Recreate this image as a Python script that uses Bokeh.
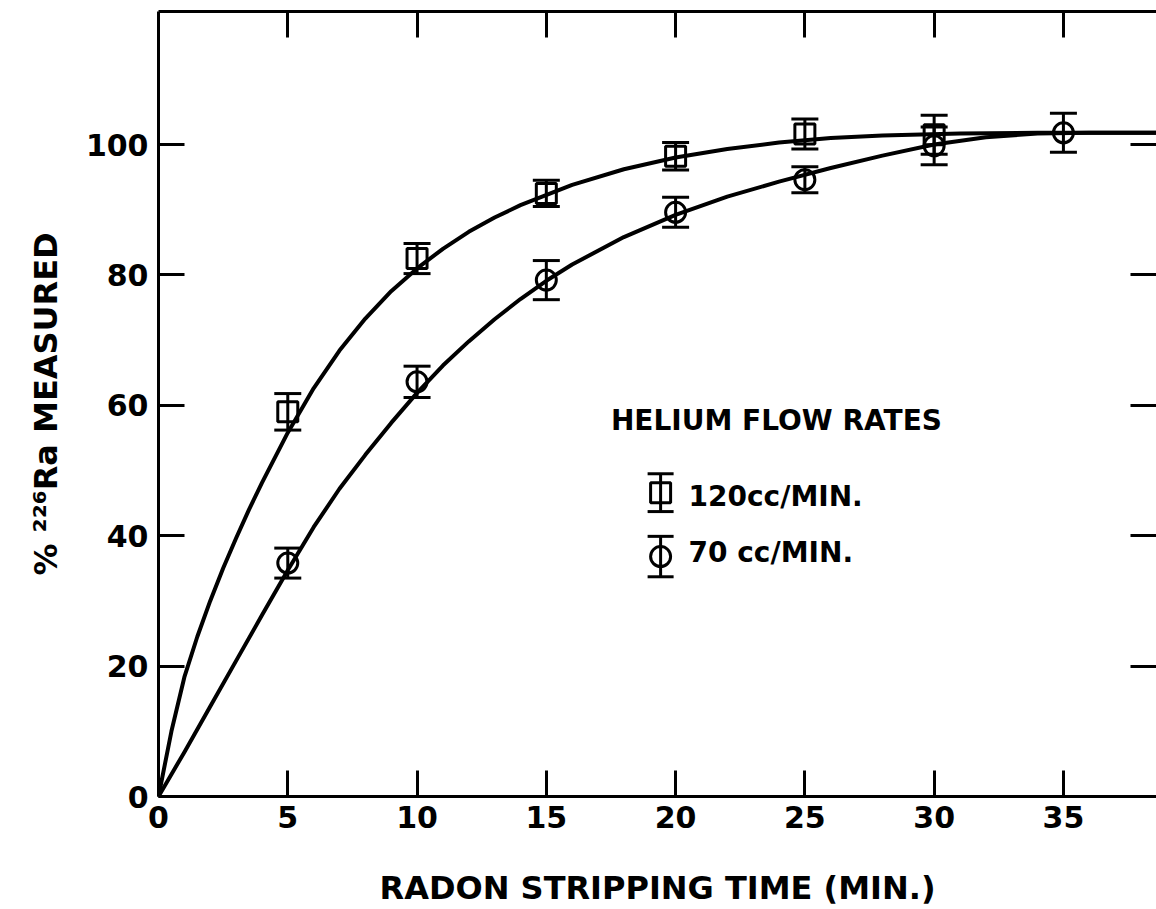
from bokeh.plotting import figure
from bokeh.models import Range1d, LinearAxis, FixedTicker, Whisker, TeeHead, ColumnDataSource, Label
from bokeh.embed import file_html
from bokeh.resources import INLINE

# ---------------- data ----------------
x_ticks = [0, 5, 10, 15, 20, 25, 30, 35]
y_ticks = [0, 20, 40, 60, 80, 100]

time_120 = [5, 10, 15, 20, 25, 30]
pct_120 = [59.0, 82.5, 92.5, 98.2, 101.6, 101.5]
err_120 = [2.8, 2.3, 2.0, 2.1, 2.3, 3.0]

time_70 = [5, 10, 15, 20, 25, 30, 35]
pct_70 = [35.8, 63.6, 79.2, 89.6, 94.6, 99.8, 101.8]
err_70 = [2.3, 2.4, 3.0, 2.3, 2.0, 2.9, 3.0]

curve_120_t = [0, 0.5, 1, 1.5, 2, 2.5, 3, 3.5, 4, 5, 6, 7, 8, 9, 10, 11, 12, 13, 14, 16, 18, 20, 22, 24, 26, 28,
               31, 34, 38.6]
curve_120_y = [0, 10, 18.3, 24.5, 30, 35, 39.6, 44, 48.1, 55.8, 62.6, 68.4, 73.3, 77.5, 81.0, 84.0, 86.6, 88.8,
               90.7, 93.8, 96.2, 98.0, 99.3, 100.3, 101.0, 101.4, 101.7, 101.8, 101.8]

curve_70_t = [0, 1, 2, 3, 4, 5, 6, 7, 8, 9, 10, 11, 12, 13, 14, 15, 16, 18, 20, 22, 24, 26, 28, 30, 32, 34, 36, 38.6]
curve_70_y = [0, 6.8, 13.8, 20.8, 27.8, 34.7, 41.3, 47.2, 52.4, 57.3, 61.9, 66.1, 69.8, 73.2, 76.3, 79.1, 81.6,
              85.8, 89.2, 92.0, 94.3, 96.4, 98.3, 100.0, 101.1, 101.7, 101.8, 101.8]

legend_title = "HELIUM FLOW RATES"
legend_labels = ["120cc/MIN.", "70 cc/MIN."]

# ---------------- layout / style constants ----------------
FONT = "DejaVu Sans"
INK = "black"
X_MAX, Y_MAX = 38.6, 120.4
LEG_SYM_X = 19.42
LEG_SYM_Y = [46.6, 36.8]
LEG_SYM_ERR = [2.9, 3.1]
LEG_TEXT_X = 20.5
LEG_TEXT_Y = [46.0, 37.4]
LEG_TITLE_X, LEG_TITLE_Y = 23.9, 57.6

p = figure(width=1156, height=909, x_range=Range1d(0, X_MAX), y_range=Range1d(0, Y_MAX),
           output_backend="svg", toolbar_location=None,
           min_border_left=158, min_border_right=0, min_border_top=11, min_border_bottom=112)
p.outline_line_color = None
p.grid.visible = False
p.background_fill_color = "white"
p.border_fill_color = "white"


def style_axis(ax, ticks, show_labels=True, show_line=True):
    ax.ticker = FixedTicker(ticks=ticks)
    ax.major_tick_in = 26
    ax.major_tick_out = 0
    ax.minor_tick_line_color = None
    ax.major_tick_line_width = 3
    ax.major_tick_line_color = INK
    ax.axis_line_width = 3
    ax.axis_line_color = INK if show_line else None
    if show_labels:
        ax.major_label_text_font = FONT
        ax.major_label_text_font_size = "30px"
        ax.major_label_text_font_style = "bold"
        ax.major_label_text_color = INK
    else:
        # frame-side ticks only: labels are not drawn at all
        ax.major_label_text_color = None
        ax.major_label_text_font_size = "1px"
        ax.major_label_standoff = 0


xa = p.xaxis[0]
style_axis(xa, x_ticks)
xa.major_label_standoff = 9
xa.axis_label = "RADON STRIPPING TIME (MIN.)"
xa.axis_label_text_font = FONT
xa.axis_label_text_font_size = "32px"
xa.axis_label_text_font_style = "bold"
xa.axis_label_text_color = INK
xa.axis_label_standoff = 38

ya = p.yaxis[0]
style_axis(ya, y_ticks)
ya.major_label_standoff = 10
ya.axis_label = "% \u00b2\u00b2\u2076Ra MEASURED"
ya.axis_label_text_font = FONT
ya.axis_label_text_font_size = "32px"
ya.axis_label_text_font_style = "bold"
ya.axis_label_text_color = INK
ya.axis_label_standoff = 18

top = LinearAxis()
style_axis(top, x_ticks[1:], show_labels=False)
p.add_layout(top, "above")

right = LinearAxis()
style_axis(right, y_ticks[1:], show_labels=False, show_line=False)
p.add_layout(right, "right")

# ---------------- curves ----------------
p.line(curve_120_t, curve_120_y, line_width=4, line_color=INK, line_join="round")
p.line(curve_70_t, curve_70_y, line_width=4, line_color=INK, line_join="round")

# ---------------- error bars and markers ----------------
def errorbars(xs, ys, es, cap):
    src = ColumnDataSource(dict(x=xs, upper=[y + e for y, e in zip(ys, es)], lower=[y - e for y, e in zip(ys, es)]))
    w = Whisker(source=src, base="x", upper="upper", lower="lower", dimension="height",
                line_width=3, line_color=INK,
                upper_head=TeeHead(size=cap, line_width=3, line_color=INK),
                lower_head=TeeHead(size=cap, line_width=3, line_color=INK))
    p.add_layout(w)


errorbars(time_120, pct_120, err_120, 27)
errorbars(time_70, pct_70, err_70, 27)

p.scatter(time_120, pct_120, marker="square", size=20, fill_color=None, line_color=INK, line_width=3)
p.scatter(time_70, pct_70, marker="circle", size=20, fill_color=None, line_color=INK, line_width=3)

# ---------------- legend (drawn by hand, like the original) ----------------
errorbars([LEG_SYM_X], [LEG_SYM_Y[0]], [LEG_SYM_ERR[0]], 26)
errorbars([LEG_SYM_X], [LEG_SYM_Y[1]], [LEG_SYM_ERR[1]], 26)
p.scatter([LEG_SYM_X], [LEG_SYM_Y[0]], marker="square", size=20, fill_color=None, line_color=INK, line_width=3)
p.scatter([LEG_SYM_X], [LEG_SYM_Y[1]], marker="circle", size=20, fill_color=None, line_color=INK, line_width=3)

p.add_layout(Label(x=LEG_TITLE_X, y=LEG_TITLE_Y, text=legend_title, text_font=FONT, text_font_size="28px",
                   text_font_style="bold", text_color=INK, text_align="center", text_baseline="middle"))
for ty, lab in zip(LEG_TEXT_Y, legend_labels):
    p.add_layout(Label(x=LEG_TEXT_X, y=ty, text=lab, text_font=FONT, text_font_size="28px",
                       text_font_style="bold", text_color=INK, text_align="left", text_baseline="middle"))

open("out.html", "w").write(file_html(p, INLINE))
